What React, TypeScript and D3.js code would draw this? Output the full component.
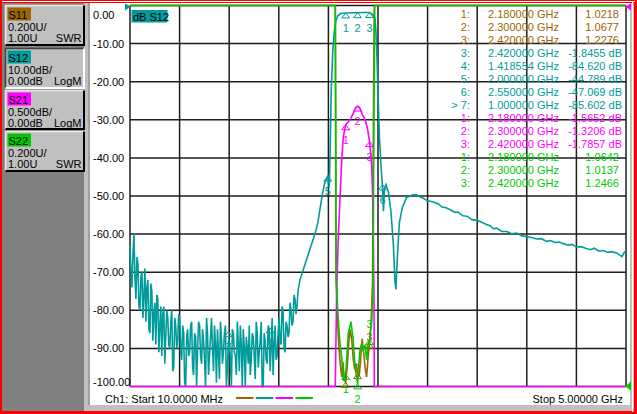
import React from "react";
import * as d3 from "d3";

const W = 637;
const H = 414;

const startGHz = 0.01;
const stopGHz = 5.0;

const yTickValues = [0, -10, -20, -30, -40, -50, -60, -70, -80, -90, -100];
const yTickLabels = ["0.00", "-10.00", "-20.00", "-30.00", "-40.00", "-50.00", "-60.00", "-70.00", "-80.00", "-90.00", "-100.00"];

// S12 (dB) noise floor, uniform sweep
const s12NoiseStart = 0.01;
const s12NoiseStep = 0.01;
const s12NoiseDb = [
  -63, -70, -74, -65, -60, -72, -77, -66, -68, -79,
  -80, -71, -70, -82, -76, -69, -83, -74, -72, -85,
  -86, -73, -75, -88, -81, -78, -89, -76, -77, -91,
  -84, -79, -92, -81, -79, -94, -87, -80, -82, -89,
  -90, -83, -80, -96, -95, -82, -84, -90, -88, -81,
  -82, -91, -93, -84, -86, -99, -100, -87, -85, -92,
  -91, -84, -83, -95, -97, -86, -87, -100, -90, -83,
  -84, -92, -94, -85, -88, -93, -100, -82, -86, -97,
  -92, -87, -82, -90, -96, -84, -89, -99, -85, -91,
  -98, -83, -87, -94, -91, -86, -84, -100, -95, -88,
  -88, -93, -100, -85, -86, -91, -92, -97, -83, -89,
  -96, -84, -89, -100, -85, -90, -100, -87, -90, -94,
  -84, -97, -93, -86, -87, -92, -98, -83, -86, -95,
  -91, -88, -83, -100, -100, -86, -88, -93, -94, -84,
  -85, -96, -90, -82, -97, -89, -84, -93, -92, -86,
  -82, -88, -89, -79, -80, -90, -91, -83, -84, -87,
  -86, -78, -80, -84, -83, -76, -77, -81, -79, -75,
];
// S12 (dB) from the filter skirt to stop
const s12TailDb: [number, number][] = [
  [1.72, -72], [1.77, -68], [1.82, -64], [1.87, -60], [1.9, -57], [1.93, -52], [1.95, -49],
  [1.97, -46.5], [2.0, -44.8], [2.015, -47.5], [2.025, -36], [2.035, -22], [2.05, -12],
  [2.065, -7], [2.08, -4.2], [2.1, -2.7], [2.13, -2.1], [2.18, -1.95], [2.24, -1.9],
  [2.3, -1.9], [2.36, -1.85], [2.42, -1.85], [2.45, -2.3], [2.475, -3.3], [2.485, -7.3],
  [2.495, -14], [2.505, -23], [2.52, -35], [2.54, -44], [2.55, -47.07], [2.56, -54],
  [2.57, -48], [2.585, -47], [2.61, -49], [2.635, -54], [2.66, -63], [2.675, -72],
  [2.685, -74.5], [2.7, -66], [2.72, -57], [2.75, -53], [2.79, -50.5], [2.84, -49.8],
  [2.89, -49.6], [2.93, -50.3], [2.96, -50.6], [3.0, -51.2], [3.05, -51.5], [3.11, -52],
  [3.15, -52.9], [3.19, -53.1], [3.23, -53.6], [3.28, -54.3], [3.31, -54.2], [3.36, -55.2],
  [3.4, -55.3], [3.45, -56.2], [3.5, -56.4], [3.55, -56.9], [3.58, -57.3], [3.63, -57.8],
  [3.67, -58.6], [3.7, -58.4], [3.75, -59.3], [3.8, -59.3], [3.85, -59.9], [3.9, -59.7],
  [3.95, -60.4], [4.0, -60.7], [4.05, -60.9], [4.1, -61.3], [4.15, -61.2], [4.2, -61.9],
  [4.24, -61.7], [4.29, -62.2], [4.33, -62.1], [4.37, -62.5], [4.42, -62.9], [4.46, -62.7],
  [4.5, -63.4], [4.55, -63.3], [4.6, -63.8], [4.64, -64.1], [4.68, -63.7], [4.73, -64.5],
  [4.77, -64.3], [4.82, -64.8], [4.86, -64.6], [4.91, -65.0], [4.94, -65.6], [4.96, -65.9],
  [4.98, -64.9], [5.0, -64.4],
];

// S21 (dB), 0.5 dB/div, ref 0 dB at top
const s21Db: [number, number][] = [
  [0.01, -40], [2.07, -8], [2.075, -5.5], [2.089, -3.78], [2.105, -3.06], [2.122, -2.55],
  [2.14, -2.03], [2.156, -1.72], [2.18, -1.5652], [2.223, -1.5], [2.256, -1.415],
  [2.283, -1.336], [2.3, -1.3206], [2.32, -1.34], [2.343, -1.415], [2.376, -1.5],
  [2.4, -1.62], [2.42, -1.7857], [2.433, -1.95], [2.442, -2.12], [2.452, -2.55],
  [2.458, -3.08], [2.465, -3.87], [2.468, -5.5], [2.475, -8], [5.0, -40],
];

// S11 / S22 (SWR), 0.2 U/div, ref 1.00 U at bottom
const s11Swr: [number, number][] = [
  [0.01, 8], [2.07, 6], [2.076, 4], [2.082, 1.6], [2.095, 1.38], [2.11, 1.22], [2.125, 1.12],
  [2.14, 1.05], [2.152, 1.13], [2.165, 1.04], [2.18, 1.0218], [2.195, 1.1], [2.21, 1.22],
  [2.225, 1.3], [2.24, 1.25], [2.255, 1.15], [2.27, 1.09], [2.285, 1.12], [2.3, 1.0677],
  [2.315, 1.05], [2.33, 1.14], [2.345, 1.25], [2.36, 1.18], [2.375, 1.1], [2.39, 1.05],
  [2.405, 1.15], [2.42, 1.2276], [2.435, 1.33], [2.45, 1.55], [2.46, 2.5], [2.468, 4],
  [2.48, 6], [5.0, 8],
];
const s22Swr: [number, number][] = [
  [0.01, 8], [2.07, 6], [2.075, 4], [2.085, 1.55], [2.1, 1.4], [2.112, 1.3], [2.123, 1.226],
  [2.14, 1.15], [2.156, 1.034], [2.168, 1.03], [2.18, 1.0642], [2.19, 1.14], [2.206, 1.28],
  [2.233, 1.34], [2.256, 1.244], [2.274, 1.104], [2.3, 1.0137], [2.307, 1.086],
  [2.324, 1.192], [2.341, 1.226], [2.357, 1.192], [2.374, 1.218], [2.391, 1.14],
  [2.407, 1.226], [2.42, 1.2466], [2.442, 1.35], [2.455, 1.506], [2.465, 2.5], [2.472, 4],
  [2.48, 6], [5.0, 8],
];

type Marker = { n: string; f: number; v: number; active?: boolean };
const s11Markers: Marker[] = [
  { n: "1", f: 2.18, v: 1.0218 },
  { n: "2", f: 2.3, v: 1.0677 },
  { n: "3", f: 2.42, v: 1.2276 },
];
const s12Markers: Marker[] = [
  { n: "1", f: 2.18, v: -1.95 },
  { n: "2", f: 2.3, v: -1.9 },
  { n: "3", f: 2.42, v: -1.8455 },
  { n: "4", f: 1.418554, v: -84.62 },
  { n: "5", f: 2.0, v: -44.789 },
  { n: "6", f: 2.55, v: -47.069 },
  { n: "7", f: 1.0, v: -85.602, active: true },
];
const s21Markers: Marker[] = [
  { n: "1", f: 2.18, v: -1.5652 },
  { n: "2", f: 2.3, v: -1.3206 },
  { n: "3", f: 2.42, v: -1.7857 },
];
const s22Markers: Marker[] = [
  { n: "1", f: 2.18, v: 1.0642 },
  { n: "2", f: 2.3, v: 1.0137 },
  { n: "3", f: 2.42, v: 1.2466 },
];

const channels = [
  { name: "S11", color: "#9c6600", line1: "0.200U/", line2: "1.00U", format: "SWR" },
  { name: "S12", color: "#009c9c", line1: "10.00dB/", line2: "0.00dB", format: "LogM" },
  { name: "S21", color: "#ff00ff", line1: "0.500dB/", line2: "0.00dB", format: "LogM" },
  { name: "S22", color: "#00c800", line1: "0.200U/", line2: "1.00U", format: "SWR" },
];

const font = "'Liberation Sans', Arial, sans-serif";
const plot = { left: 130, right: 626, top: 5.5, bottom: 386.5 };

const x = d3.scaleLinear().domain([startGHz, stopGHz]).range([plot.left, plot.right]);
const yS12 = d3.scaleLinear().domain([-100, 0]).range([plot.bottom, plot.top]).clamp(true);
const yS21 = d3.scaleLinear().domain([-5, 0]).range([plot.bottom, plot.top]).clamp(true);
const ySwr = d3.scaleLinear().domain([1, 3]).range([plot.bottom, plot.top]).clamp(true);

const s12Points: [number, number][] = s12NoiseDb
  .map((v, i) => [s12NoiseStart + i * s12NoiseStep, v] as [number, number])
  .concat(s12TailDb);

const mkLine = (ys: d3.ScaleLinear<number, number>) =>
  d3.line<[number, number]>().x((d) => x(d[0])).y((d) => ys(d[1]));

// labelDy: baseline offset of the marker number relative to the marked point
const Tri = ({ m, ys, color, labelDy = 19 }: { m: Marker; ys: d3.ScaleLinear<number, number>; color: string; labelDy?: number }) => {
  const cx = x(m.f);
  const cy = ys(m.v);
  return (
    <g>
      <path d={`M${cx},${cy}L${cx - 4},${cy + 5}L${cx + 4},${cy + 5}Z`} fill="none" stroke={color} strokeWidth={1} />
      <text x={cx} y={cy + labelDy} textAnchor="middle" fontSize={11} fill={color} fontFamily={font}>
        {m.n}
      </text>
    </g>
  );
};

const tableRows = [
  ...s11Markers.map((m) => ({ m, color: channels[0].color, db: false })),
  ...s12Markers.slice(2).map((m) => ({ m, color: channels[1].color, db: true })),
  ...s21Markers.map((m) => ({ m, color: channels[2].color, db: true })),
  ...s22Markers.map((m) => ({ m, color: channels[3].color, db: false })),
];

const buttonTops = [5, 48, 90, 131];

export default function App() {
  const gridX = d3.range(0, 11).map((i) => plot.left + (i * (plot.right - plot.left)) / 10);
  return (
    <svg width={W} height={H} style={{ position: "absolute", left: 0, top: 0 }}>
      {/* window frame */}
      <rect x={0} y={0} width={W} height={H} fill="#ff0000" />
      <rect x={2} y={3} width={632} height={408} fill="#c0c0c0" />
      <line x1={2} x2={635} y1={1.5} y2={1.5} stroke="#ffffff" strokeWidth={1} />
      <line x1={632.5} x2={632.5} y1={1} y2={412} stroke="#ffffff" strokeWidth={1} />
      <rect x={2} y={3} width={82} height={408} fill="#808080" />
      <rect x={90} y={3} width={540} height={402} fill="#ffffff" />
      <line x1={89} x2={89} y1={3} y2={405} stroke="#808080" strokeWidth={1} />

      {/* channel buttons */}
      {channels.map((c, i) => {
        const t = buttonTops[i];
        const active = i === 1;
        const h = i === 2 ? 39 : 40;
        return (
          <g key={c.name} fontFamily={font} fontSize={11}>
            <rect x={5} y={t} width={79} height={h} fill="#c0c0c0" />
            <path d={`M5.5,${t + h}V${t + 0.5}H84`} fill="none" stroke={active ? "#404040" : "#e8e8e8"} strokeWidth={1.5} />
            <path d={`M84,${t + 0.5}V${t + h}H5.5`} fill="none" stroke={active ? "#ffffff" : "#000000"} strokeWidth={2} />
            <rect x={7.5} y={t + 2.5} width={23.5} height={13} fill={c.color} />
            <text x={8.5} y={t + 13.5}>{c.name}</text>
            <text x={8} y={t + 25.5}>{c.line1}</text>
            <text x={8} y={t + 36.5}>{c.line2}</text>
            <text x={81.5} y={t + 36.5} textAnchor="end">{c.format}</text>
          </g>
        );
      })}

      {/* grid */}
      {gridX.map((gx, i) => (
        <line key={"gx" + i} x1={gx} x2={gx} y1={plot.top} y2={plot.bottom} stroke="#1e1e1e" strokeWidth={1.5} />
      ))}
      {yTickValues.map((v) => (
        <line key={"gy" + v} x1={plot.left} x2={plot.right} y1={yS12(v)} y2={yS12(v)} stroke="#1e1e1e" strokeWidth={1.5} />
      ))}
      {yTickValues.map((v, i) => (
        <text
          key={"yl" + v}
          x={93}
          y={Math.max(15, Math.min(382, yS12(v))) + 4}
          fontSize={11}
          fontFamily={font}
          fill="#000"
        >
          {yTickLabels[i]}
        </text>
      ))}

      {/* traces */}
      <path d={mkLine(ySwr)(s11Swr) || ""} fill="none" stroke={channels[0].color} strokeWidth={1.6} />
      <path d={mkLine(yS12)(s12Points) || ""} fill="none" stroke={channels[1].color} strokeWidth={1.6} />
      <path d={mkLine(yS21)(s21Db) || ""} fill="none" stroke={channels[2].color} strokeWidth={1.6} />
      <path d={mkLine(ySwr)(s22Swr) || ""} fill="none" stroke={channels[3].color} strokeWidth={1.6} />

      {/* markers */}
      {s11Markers.map((m) => <Tri key={"m11" + m.n} m={m} ys={ySwr} color={channels[0].color} labelDy={-2} />)}
      {s12Markers.map((m) => <Tri key={"m12" + m.n} m={m} ys={yS12} color={channels[1].color} />)}
      {s21Markers.map((m) => <Tri key={"m21" + m.n} m={m} ys={yS21} color={channels[2].color} />)}
      {s22Markers.map((m, i) => (
        <Tri key={"m22" + m.n} m={m} ys={ySwr} color={channels[3].color} labelDy={i === 2 ? -12 : 19} />
      ))}

      {/* reference position arrows */}
      <path d={`M125,${plot.top - 2}L131,${plot.top + 1}L125,${plot.top + 5}Z`} fill={channels[1].color} />
      <path d={`M631,${plot.top - 2}L625,${plot.top + 1}L631,${plot.top + 5}Z`} fill={channels[2].color} />
      <path d={`M631,${plot.bottom - 5}L625,${plot.bottom}L631,${plot.bottom + 4}Z`} fill={channels[3].color} />

      {/* active trace title */}
      <rect x={131.5} y={10} width={36} height={12.5} fill={channels[1].color} />
      <text x={133} y={20.5} fontSize={11} fontFamily={font} fill="#000">dB S12</text>

      {/* marker table */}
      {tableRows.map((r, i) => {
        const yy = 14 + i * 12.98 + 4;
        return (
          <g key={"row" + i} fontFamily={font} fontSize={11} fill={r.color}>
            <text x={470} y={yy} textAnchor="end">{(r.m.active ? "> " : "") + r.m.n + ":"}</text>
            <text x={559} y={yy} textAnchor="end">{r.m.f.toFixed(6) + " GHz"}</text>
            <text x={r.db ? 622 : 619} y={yy} textAnchor="end">
              {r.m.v.toPrecision(5) + (r.db ? " dB" : "")}
            </text>
          </g>
        );
      })}

      {/* footer */}
      <g fontFamily={font} fontSize={11} fill="#000" style={{ whiteSpace: "pre" }}>
        <text x={105} y={403}>{"Ch1: Start  " + (startGHz * 1000).toFixed(4) + " MHz"}</text>
        <text x={623} y={403} textAnchor="end">{"Stop  " + stopGHz.toFixed(5) + " GHz"}</text>
      </g>
      {channels.map((c, i) => (
        <line key={"lg" + i} x1={236 + i * 19.8} x2={253.5 + i * 19.8} y1={398} y2={398} stroke={c.color} strokeWidth={2} />
      ))}
    </svg>
  );
}
